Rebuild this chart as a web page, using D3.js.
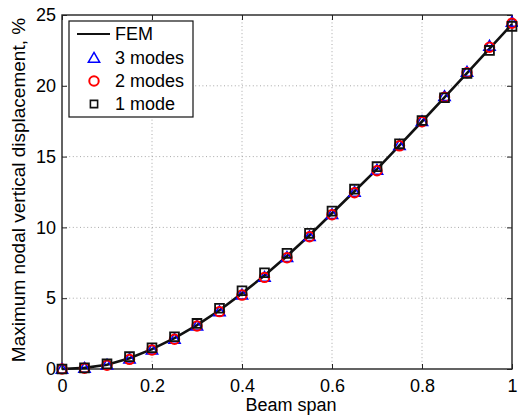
<!DOCTYPE html>
<html>
<head>
<meta charset="utf-8">
<script src="https://cdn.jsdelivr.net/npm/d3@7"></script>
<style>
  html, body { margin: 0; padding: 0; background: #fff; }
  svg { display: block; font-family: "Liberation Sans", Arial, Helvetica, sans-serif; }
</style>
</head>
<body>
<svg id="chart" width="518" height="416"></svg>
<script>
// ---- data ----
const spans = [0, 0.05, 0.1, 0.15, 0.2, 0.25, 0.3, 0.35, 0.4, 0.45, 0.5, 0.55, 0.6, 0.65, 0.7, 0.75, 0.8, 0.85, 0.9, 0.95, 1.0];
const femValues   = [0, 0.08, 0.3, 0.76, 1.4, 2.18, 3.1, 4.15, 5.34, 6.6, 7.98, 9.45, 11.0, 12.55, 14.12, 15.8, 17.48, 19.18, 20.9, 22.62, 24.35];
const modes3Values = [0, 0.07, 0.3, 0.72, 1.36, 2.12, 3.05, 4.07, 5.25, 6.5, 7.9, 9.37, 10.93, 12.5, 14.06, 15.8, 17.5, 19.26, 20.98, 22.82, 24.5];
const modes2Values = [0, 0.05, 0.26, 0.68, 1.34, 2.1, 3.04, 4.05, 5.22, 6.47, 7.86, 9.34, 10.9, 12.45, 14.0, 15.76, 17.46, 19.2, 20.92, 22.72, 24.42];
const mode1Values  = [0, 0.08, 0.36, 0.87, 1.5, 2.28, 3.22, 4.29, 5.53, 6.8, 8.17, 9.58, 11.15, 12.7, 14.29, 15.9, 17.55, 19.16, 20.88, 22.5, 24.2];
const xTickValues = [0, 0.2, 0.4, 0.6, 0.8, 1];
const xTickLabels = ["0", "0.2", "0.4", "0.6", "0.8", "1"];
const yTickValues = [0, 5, 10, 15, 20, 25];
const yTickLabels = ["0", "5", "10", "15", "20", "25"];
const legendLabels = ["FEM", "3 modes", "2 modes", "1 mode"];

// ---- layout ----
const svg = d3.select("#chart");
const L = 62, R = 512, T = 15, B = 369;
const fontSize = 18;
const x = d3.scaleLinear().domain([0, 1]).range([L, R]);
const y = d3.scaleLinear().domain([0, 25]).range([B, T]);

// grid
const grid = svg.append("g").attr("stroke", "#a8a8a8").attr("stroke-width", 1)
  .attr("stroke-dasharray", "1,2.6");
grid.selectAll("line.gx").data(xTickValues.slice(1, -1)).join("line")
  .attr("x1", d => x(d)).attr("x2", d => x(d)).attr("y1", B).attr("y2", T);
grid.selectAll("line.gy").data(yTickValues.slice(1, -1)).join("line")
  .attr("y1", d => y(d)).attr("y2", d => y(d)).attr("x1", L).attr("x2", R);

// axes (MATLAB style: ticks inside, on all four sides)
const tickLen = 5;
function styleAxis(g) {
  g.select(".domain").remove();
  g.selectAll(".tick line").attr("stroke", "#222").attr("stroke-width", 1);
  g.selectAll(".tick text").attr("fill", "#000").attr("font-size", fontSize)
    .attr("font-family", "Liberation Sans, Arial, sans-serif");
}
svg.append("g").attr("transform", `translate(0,${B})`)
  .call(d3.axisBottom(x).tickValues(xTickValues).tickSize(-tickLen).tickPadding(10)
    .tickFormat((d, i) => xTickLabels[i]))
  .call(styleAxis)
  .call(g => g.selectAll(".tick text").attr("dy", "0.71em"));
svg.append("g").attr("transform", `translate(0,${T})`)
  .call(d3.axisTop(x).tickValues(xTickValues).tickSize(-tickLen).tickFormat(""))
  .call(styleAxis);
svg.append("g").attr("transform", `translate(${L},0)`)
  .call(d3.axisLeft(y).tickValues(yTickValues).tickSize(-tickLen).tickPadding(6)
    .tickFormat((d, i) => yTickLabels[i]))
  .call(styleAxis);
svg.append("g").attr("transform", `translate(${R},0)`)
  .call(d3.axisRight(y).tickValues(yTickValues).tickSize(-tickLen).tickFormat(""))
  .call(styleAxis);

// frame
svg.append("rect").attr("x", L).attr("y", T).attr("width", R - L).attr("height", B - T)
  .attr("fill", "none").attr("stroke", "#222").attr("stroke-width", 1.4);

// FEM line
svg.append("path").datum(spans.map((s, i) => [s, femValues[i]]))
  .attr("fill", "none").attr("stroke", "#111").attr("stroke-width", 2.6)
  .attr("d", d3.line().x(d => x(d[0])).y(d => y(d[1])));

// markers
const triSym = d3.symbol().type(d3.symbolTriangle).size(56);
const circSym = d3.symbol().type(d3.symbolCircle).size(70);
const sqSym = d3.symbol().type(d3.symbolSquare).size(78);

svg.append("g").selectAll("path").data(spans.map((s, i) => [s, modes3Values[i]])).join("path")
  .attr("d", triSym()).attr("transform", d => `translate(${x(d[0])},${y(d[1]) + 1})`)
  .attr("fill", "none").attr("stroke", "#0000ff").attr("stroke-width", 1.5);
svg.append("g").selectAll("path").data(spans.map((s, i) => [s, modes2Values[i]])).join("path")
  .attr("d", circSym()).attr("transform", d => `translate(${x(d[0])},${y(d[1])})`)
  .attr("fill", "none").attr("stroke", "#ff0000").attr("stroke-width", 2);
svg.append("g").selectAll("path").data(spans.map((s, i) => [s, mode1Values[i]])).join("path")
  .attr("d", sqSym()).attr("transform", d => `translate(${x(d[0])},${y(d[1])})`)
  .attr("fill", "none").attr("stroke", "#111").attr("stroke-width", 1.8);

// axis labels
svg.append("text").attr("x", (L + R) / 2 + 4).attr("y", 411)
  .attr("text-anchor", "middle").attr("font-size", fontSize).text("Beam span");
svg.append("text").attr("transform", `translate(25,${(T + B) / 2 - 2}) rotate(-90)`)
  .attr("text-anchor", "middle").attr("font-size", 19)
  .text("Maximum nodal vertical displacement, %");

// legend
const lg = svg.append("g");
lg.append("rect").attr("x", 69).attr("y", 21).attr("width", 124).attr("height", 96)
  .attr("fill", "#fff").attr("stroke", "#111").attr("stroke-width", 1.2);
const rowY = [34, 58, 81, 104];
lg.append("line").attr("x1", 77).attr("x2", 110).attr("y1", rowY[0]).attr("y2", rowY[0])
  .attr("stroke", "#111").attr("stroke-width", 2);
lg.append("path").attr("d", triSym()).attr("transform", `translate(94,${rowY[1] + 1})`)
  .attr("fill", "none").attr("stroke", "#0000ff").attr("stroke-width", 1.5);
lg.append("path").attr("d", circSym()).attr("transform", `translate(94,${rowY[2]})`)
  .attr("fill", "none").attr("stroke", "#ff0000").attr("stroke-width", 2);
lg.append("path").attr("d", d3.symbol().type(d3.symbolSquare).size(52)()).attr("transform", `translate(94,${rowY[3]})`)
  .attr("fill", "none").attr("stroke", "#111").attr("stroke-width", 1.6);
lg.selectAll("text").data(legendLabels).join("text")
  .attr("x", 115).attr("y", (d, i) => rowY[i]).attr("dy", "0.36em")
  .attr("font-size", fontSize).text(d => d);
</script>
</body>
</html>
